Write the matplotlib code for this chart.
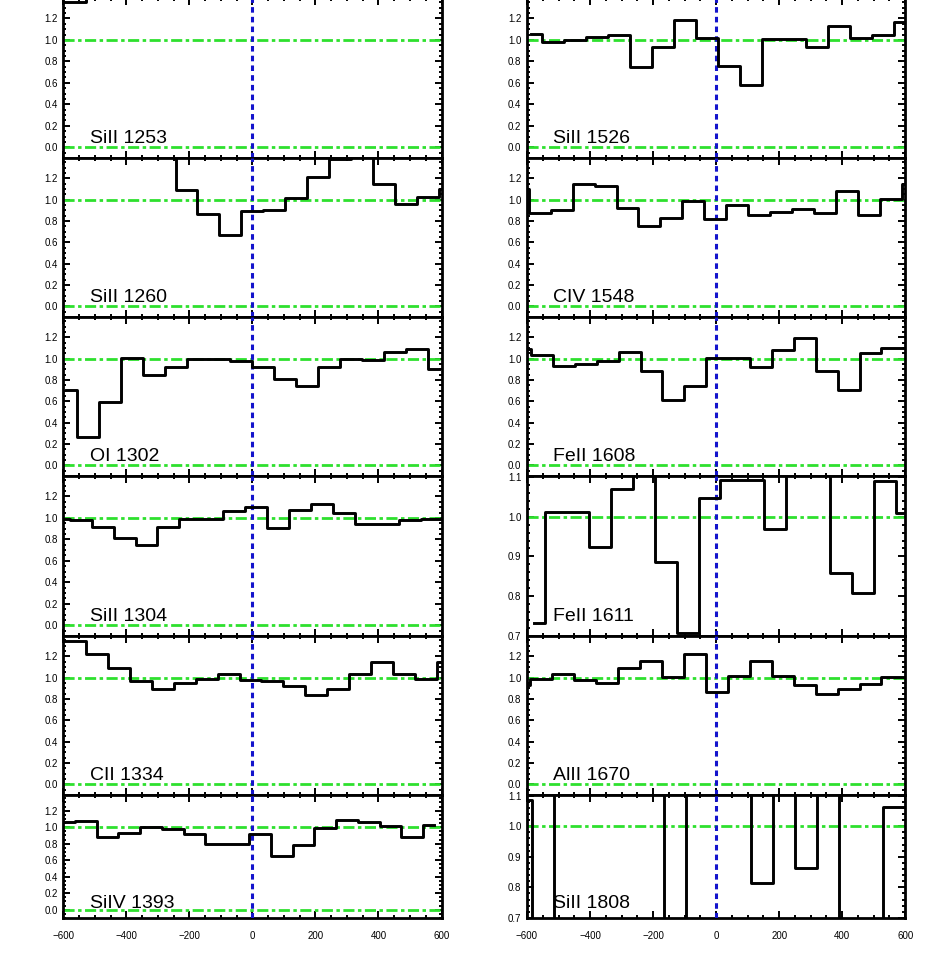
import numpy as np
import matplotlib
matplotlib.use('Agg')
import matplotlib.pyplot as plt
from matplotlib.ticker import MultipleLocator, FormatStrFormatter

plt.rcParams['font.family'] = ['Liberation Sans', 'DejaVu Sans']
plt.rcParams['lines.scale_dashes'] = False

# ---------------- data (velocity bin centres in km/s, normalised flux) ----------------
v_SiII_1253 = [-632.6, -563.0, -493.4]
f_SiII_1253 = [1.354, 1.354, 1.55]

v_SiII_1260 = [-626.6, -557.0, -487.4, -417.8, -348.2, -278.6, -209.0, -139.4, -69.8, -0.2,
               69.4, 139.0, 208.6, 278.2, 347.8, 417.4, 487.0, 556.6, 626.2]
f_SiII_1260 = [1.50, 1.50, 1.50, 1.50, 1.50, 1.50, 1.088, 0.868, 0.670, 0.890,
               0.903, 1.019, 1.208, 1.377, 1.45, 1.145, 0.962, 1.025, 1.10]

v_OI_1302 = [-591.6, -522.0, -452.4, -382.8, -313.2, -243.6, -174.0, -104.4, -34.8, 34.8,
             104.4, 174.0, 243.6, 313.2, 382.8, 452.4, 522.0, 591.6]
f_OI_1302 = [0.704, 0.264, 0.594, 1.006, 0.846, 0.925, 1.0, 1.0, 0.978, 0.921,
             0.811, 0.748, 0.921, 1.0, 0.984, 1.063, 1.094, 0.906]

v_SiII_1304 = [-614.4, -544.8, -475.2, -405.6, -336.0, -266.4, -196.8, -127.2, -57.6, 12.0,
               81.6, 151.2, 220.8, 290.4, 360.0, 429.6, 499.2, 568.8, 638.4]
f_SiII_1304 = [0.99, 0.978, 0.915, 0.811, 0.748, 0.915, 0.99, 0.99, 1.06, 1.097,
               0.906, 1.069, 1.129, 1.041, 0.943, 0.943, 0.984, 0.994, 1.0]

v_CII_1334 = [-632.4, -562.8, -493.2, -423.6, -354.0, -284.4, -214.8, -145.2, -75.6, -6.0,
              63.6, 133.2, 202.8, 272.4, 342.0, 411.6, 481.2, 550.8, 620.4]
f_CII_1334 = [1.343, 1.343, 1.220, 1.094, 0.965, 0.893, 0.947, 0.984, 1.031, 0.975,
              0.965, 0.921, 0.840, 0.893, 1.038, 1.142, 1.038, 0.991, 1.142]

v_SiIV_1393 = [-598.0, -528.9, -459.8, -390.7, -321.6, -252.5, -183.4, -114.3, -45.2, 23.9,
               93.0, 162.1, 231.2, 300.3, 369.4, 438.5, 507.6, 576.7]
f_SiIV_1393 = [1.06, 1.08, 0.879, 0.927, 1.0, 0.976, 0.919, 0.794, 0.794, 0.915,
               0.653, 0.786, 0.988, 1.089, 1.06, 1.016, 0.887, 1.028]

v_SiII_1526 = [-588.4, -518.4, -448.5, -378.6, -308.7, -238.8, -168.9, -99.0, -29.1, 40.8,
               110.7, 180.6, 250.5, 320.4, 390.3, 460.2, 530.1, 600.0]
f_SiII_1526 = [1.054, 0.981, 1.0, 1.028, 1.044, 0.751, 0.934, 1.183, 1.022, 0.757,
               0.584, 1.006, 1.009, 0.93, 1.129, 1.019, 1.044, 1.167]

v_CIV_1548 = [-629.3, -559.7, -490.1, -420.4, -350.8, -281.2, -211.5, -141.9, -72.2, -2.6,
              67.0, 136.7, 206.3, 276.0, 345.6, 415.2, 484.9, 554.5, 624.2]
f_CIV_1548 = [1.10, 0.877, 0.899, 1.145, 1.123, 0.925, 0.752, 0.830, 0.984, 0.821,
              0.947, 0.855, 0.887, 0.915, 0.877, 1.079, 0.855, 1.009, 1.145]

v_FeII_1608 = [-622.0, -552.5, -483.0, -413.5, -344.0, -274.5, -205.0, -135.5, -66.0, 3.5,
               73.0, 142.5, 212.0, 281.5, 351.0, 420.5, 490.0, 559.5, 629.0]
f_FeII_1608 = [1.094, 1.031, 0.931, 0.947, 0.978, 1.063, 0.881, 0.61, 0.742, 1.009,
               1.009, 0.921, 1.079, 1.192, 0.887, 0.708, 1.053, 1.101, 1.101]

v_FeII_1611 = [-577.7, -508.1, -438.5, -368.9, -299.3, -229.7, -160.1, -90.5, -20.9, 48.7,
               118.3, 187.9, 257.5, 327.1, 396.7, 466.3, 535.9, 605.5]
f_FeII_1611 = [0.731, 1.011, 1.011, 0.923, 1.069, 1.15, 0.885, 0.708, 1.046, 1.092,
               1.092, 0.968, 1.15, 1.15, 0.857, 0.808, 1.091, 1.01]

v_AlII_1670 = [-625.4, -555.7, -486.0, -416.3, -346.6, -276.9, -207.2, -137.5, -67.8, 2.0,
               71.7, 141.4, 211.1, 280.8, 350.5, 420.2, 489.9, 559.6, 629.3]
f_AlII_1670 = [0.93, 0.984, 1.031, 0.975, 0.95, 1.094, 1.154, 1.006, 1.22, 0.865,
               1.013, 1.154, 1.013, 0.928, 0.849, 0.896, 0.943, 1.003, 1.003]

v_SiII_1808 = [-618.8, -549.2, -479.6, -410.0, -340.4, -270.8, -201.2, -131.6, -62.0, 7.6,
               77.2, 146.8, 216.4, 286.0, 355.6, 425.2, 494.8, 564.4, 634.0]
f_SiII_1808 = [1.086, 0.60, 1.25, 1.25, 1.25, 1.25, 1.25, 0.60, 1.25, 1.25,
               1.25, 0.814, 1.25, 0.863, 1.25, 0.60, 0.60, 1.064, 1.064]

left_labels = ['SiII 1253', 'SiII 1260', 'OI 1302', 'SiII 1304', 'CII 1334', 'SiIV 1393']
right_labels = ['SiII 1526', 'CIV 1548', 'FeII 1608', 'FeII 1611', 'AlII 1670', 'SiII 1808']
left_data = [(v_SiII_1253, f_SiII_1253), (v_SiII_1260, f_SiII_1260), (v_OI_1302, f_OI_1302),
             (v_SiII_1304, f_SiII_1304), (v_CII_1334, f_CII_1334), (v_SiIV_1393, f_SiIV_1393)]
right_data = [(v_SiII_1526, f_SiII_1526), (v_CIV_1548, f_CIV_1548), (v_FeII_1608, f_FeII_1608),
              (v_FeII_1611, f_FeII_1611), (v_AlII_1670, f_AlII_1670), (v_SiII_1808, f_SiII_1808)]
xticks = [-600, -400, -200, 0, 200, 400, 600]

# ---------------- layout ----------------
W, H = 927, 955
fig = plt.figure(figsize=(W / 100, H / 100), dpi=100)
tops = [-2, 158, 317, 476, 636, 795]
bots = [158, 317, 476, 636, 795, 918]
col_x = [63.3, 527.0]
col_w = 378.2

GREEN = '#2ee02e'
BLUE = '#1414cc'

def setup(ax, label, v, f, narrow, bottom_row, row_h):
    ax.set_xlim(-600, 600)
    if narrow:
        ax.set_ylim(0.6995, 1.1025)
        ax.yaxis.set_major_locator(MultipleLocator(0.1))
        ax.yaxis.set_minor_locator(MultipleLocator(0.02))
    else:
        ax.set_ylim(-0.1, 1.39)
        ax.yaxis.set_major_locator(MultipleLocator(0.2))
        ax.yaxis.set_minor_locator(MultipleLocator(0.05))
    ax.yaxis.set_major_formatter(FormatStrFormatter('%.1f'))
    ax.set_xticks(xticks)
    ax.xaxis.set_minor_locator(MultipleLocator(50))
    ax.tick_params(which='both', direction='in', top=True, right=True,
                   labelsize=7, width=1.4, color='black')
    ax.tick_params(which='major', length=5)
    ax.tick_params(which='minor', length=2.5)
    ax.tick_params(axis='y', pad=4.0)
    ax.tick_params(axis='x', pad=9.0, labelbottom=bottom_row)
    for s in ax.spines.values():
        s.set_linewidth(2.0)
    # reference lines
    ax.axhline(1.0, color=GREEN, lw=2.0, ls=(0, (8, 2.5, 2.5, 2.5)), zorder=2)
    if not narrow:
        ax.axhline(0.0, color=GREEN, lw=2.0, ls=(0, (8, 2.5, 2.5, 2.5)), zorder=2)
    ax.axvline(0.0, color=BLUE, lw=2.2, ls=(0, (4, 3)), zorder=3)
    ax.step(v, f, where='mid', color='black', lw=2.1, zorder=4)
    yfrac = 10.3 / row_h if row_h < 140 else 14.7 / row_h
    ax.text(0.07, yfrac, label, transform=ax.transAxes, fontsize=14,
            ha='left', va='baseline', color='black', zorder=5)

for c, (labels, data) in enumerate([(left_labels, left_data), (right_labels, right_data)]):
    for r in range(6):
        h = bots[r] - tops[r]
        ax = fig.add_axes([col_x[c] / W, 1 - bots[r] / H, col_w / W, h / H])
        narrow = (c == 1 and r in (3, 5))
        setup(ax, labels[r], data[r][0], data[r][1], narrow, r == 5, h)

fig.savefig('out.png', dpi=100)
